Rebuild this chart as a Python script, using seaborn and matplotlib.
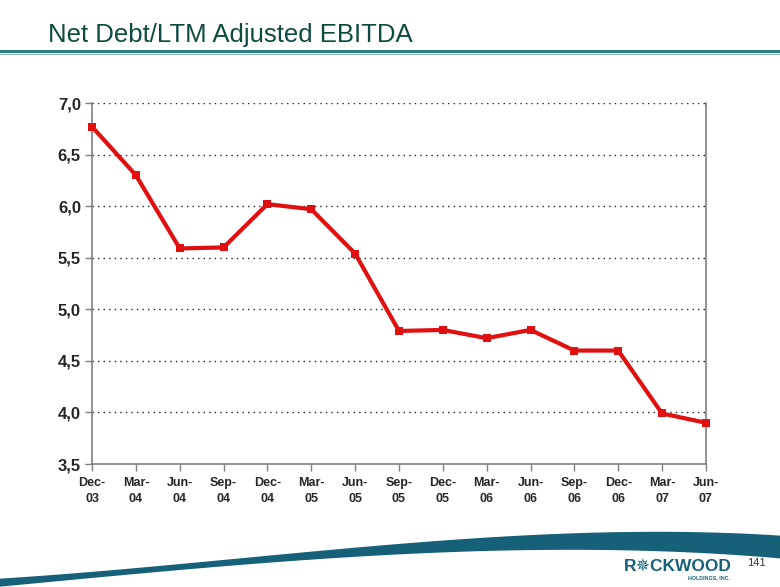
import numpy as np
import pandas as pd
import matplotlib
matplotlib.use("Agg")
import matplotlib.pyplot as plt
import seaborn as sns

periods = ["Dec-\n03", "Mar-\n04", "Jun-\n04", "Sep-\n04", "Dec-\n04", "Mar-\n05", "Jun-\n05",
           "Sep-\n05", "Dec-\n05", "Mar-\n06", "Jun-\n06", "Sep-\n06", "Dec-\n06", "Mar-\n07", "Jun-\n07"]
ratio = [6.77, 6.30, 5.59, 5.60, 6.02, 5.97, 5.54, 4.79, 4.80, 4.72, 4.80, 4.60, 4.60, 3.99, 3.90]
y_ticks = [3.5, 4.0, 4.5, 5.0, 5.5, 6.0, 6.5, 7.0]
y_labels = ["3,5", "4,0", "4,5", "5,0", "5,5", "6,0", "6,5", "7,0"]

sns.set_theme(style="white")
plt.rcParams["font.family"] = ["Liberation Sans", "DejaVu Sans"]

df = pd.DataFrame({"pos": np.arange(len(periods)), "ratio": ratio})

fig = plt.figure(figsize=(7.8, 5.87), dpi=100)
ax = fig.add_axes([0.118, 0.2095, 0.787, 0.615])

sns.lineplot(data=df, x="pos", y="ratio", ax=ax, color="#e01010", linewidth=3,
             marker="s", markersize=6, markeredgewidth=0)
for ln in ax.lines:
    ln.set_clip_on(False)
    ln.set_zorder(5)

ax.set_xlim(0, len(periods) - 1)
ax.set_ylim(3.5, 7.0)
ax.set_yticks(y_ticks)
ax.set_yticklabels(y_labels, fontsize=12, fontweight="bold")
ax.set_xticks(df["pos"])
ax.set_xticklabels(periods, fontsize=9, fontweight="bold", linespacing=1.45)
ax.set_xlabel("")
ax.set_ylabel("")
for y in y_ticks[1:]:
    ax.axhline(y, color="#222222", linestyle=(0, (1, 3)), linewidth=1.0, zorder=0)
for s in ["left", "bottom", "right"]:
    ax.spines[s].set_visible(True)
    ax.spines[s].set_color("#7f7f7f")
    ax.spines[s].set_linewidth(1.2)
ax.spines["top"].set_visible(False)
ax.tick_params(axis="x", which="both", bottom=True, length=5, width=1, color="#7f7f7f", pad=4)
ax.tick_params(axis="y", which="both", left=True, length=5, width=1, color="#7f7f7f", pad=3)

# Title and header rule
fig.text(48 / 780, 1 - 35 / 587, "Net Debt/LTM Adjusted EBITDA", fontsize=18.5, color="#0d4a44",
         va="center", ha="left")
fig.add_artist(plt.Line2D([0, 1], [1 - 51 / 587, 1 - 51 / 587], color="#2f7f8a", linewidth=2.2,
                          transform=fig.transFigure))
fig.add_artist(plt.Line2D([0, 1], [1 - 54 / 587, 1 - 54 / 587], color="#8fb8bf", linewidth=0.8,
                          transform=fig.transFigure))

# Bottom swoosh decoration
kx = [0, 133, 267, 400, 533, 667, 780]
ktop = [578, 570, 555, 543, 535, 533, 535]
kbot = [586, 576, 562, 553, 551, 552, 558]
xs = np.linspace(0, 780, 300)
top = np.polyval(np.polyfit(kx, ktop, 3), xs)
bot = np.polyval(np.polyfit(kx, kbot, 3), xs)
bot = np.maximum(bot, top + 3)
swoosh = fig.add_axes([0, 0, 1, 1], zorder=-1)
swoosh.set_xlim(0, 780)
swoosh.set_ylim(587, 0)
swoosh.axis("off")
swoosh.fill_between(xs, top, bot, color="#17607a", linewidth=0)

fig.text(678 / 780, 1 - 566 / 587, "R\u2735CKWOOD", fontsize=12.5, fontweight="heavy", color="#17607a",
         ha="center", va="center")
fig.text(709 / 780, 1 - 578 / 587, "HOLDINGS, INC.", fontsize=3.8, fontweight="bold", color="#17607a",
         ha="center", va="center")
fig.text(756 / 780, 1 - 563 / 587, "141", fontsize=8, color="#333333", ha="center", va="center")

fig.savefig("out.png", dpi=100)
